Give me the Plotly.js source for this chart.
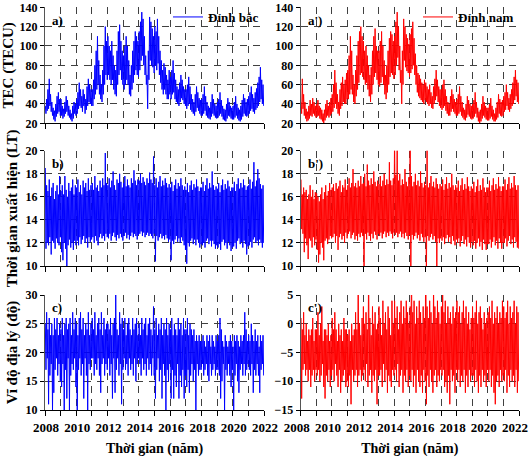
<!DOCTYPE html>
<html><head><meta charset="utf-8">
<script src="https://cdn.plot.ly/plotly-3.0.1.min.js"></script>
<style>html,body{margin:0;padding:0;background:#fff}#chart{width:530px;height:457px}</style>
</head><body><div id="chart"></div>
<script>
// Time axis: 24 samples per year from 2008 to 2022
const startYear = 2008;
const endYear = 2022;
const samplesPerYear = 24;
const yearTicks = [2008,2009,2010,2011,2012,2013,2014,2015,2016,2017,2018,2019,2020,2021,2022];
const yearLabels = ['2008','','2010','','2012','','2014','','2016','','2018','','2020','','2022'];

// a) TEC north crest (TECU)
const tecNorth = [
38,30,45,33,55,35,66,38,50,32,42,28,36,24,33,22,40,27,48,30,52,32,45,28,
45,28,38,25,35,27,42,30,48,32,44,28,38,26,34,24,30,22,38,25,42,30,40,28,
45,30,52,35,62,38,55,36,48,32,55,38,50,30,45,34,58,38,66,42,60,40,55,38,
55,38,65,45,80,50,95,55,110,60,85,50,70,45,60,42,75,50,100,60,120,70,105,65,
110,70,100,65,95,60,105,65,90,55,80,50,75,48,95,60,115,70,122,75,105,65,95,60,
90,55,100,60,110,65,100,60,85,50,70,48,80,55,95,62,105,70,115,75,110,70,105,68,
115,75,125,85,135,90,128,80,110,70,90,60,70,35,95,65,130,85,125,80,118,78,110,72,
120,80,115,75,128,82,110,70,95,62,85,55,75,50,82,55,78,50,70,45,65,45,75,50,
68,45,75,50,85,52,72,45,65,42,58,40,55,38,62,42,70,46,65,44,58,40,55,38,
55,35,60,38,68,40,58,34,50,32,45,30,42,28,50,32,58,36,52,33,46,30,44,28,
45,28,50,30,58,33,48,28,42,26,38,25,36,24,42,27,50,30,45,28,40,26,38,25,
42,26,45,28,52,30,44,27,38,24,35,23,34,22,40,25,46,28,42,27,38,25,36,24,
38,24,42,26,48,28,40,25,36,23,34,22,38,24,44,27,50,30,46,28,42,27,45,28,
48,30,52,33,58,35,50,32,46,30,52,34,56,36,62,38,68,42,78,45,65,40,60,38
];
// a') TEC south crest (TECU)
const tecSouth = [
42,30,66,35,50,28,42,25,35,22,32,23,38,25,44,28,40,27,46,30,42,28,38,26,
40,27,44,28,38,25,36,24,34,22,30,20,34,23,40,26,44,28,38,26,42,28,46,30,
50,32,60,36,75,40,62,35,50,30,42,28,55,35,62,38,68,42,60,40,65,40,72,45,
75,45,90,50,110,55,95,50,70,42,60,40,75,48,90,55,105,62,115,70,120,72,110,68,
105,65,95,60,100,62,90,55,80,48,70,42,78,50,95,60,110,68,118,72,100,65,95,60,
95,58,105,62,115,68,100,60,85,50,70,45,80,52,95,60,108,68,115,72,112,70,105,66,
110,70,125,80,135,88,120,75,100,62,75,40,95,60,128,85,120,78,112,74,108,72,102,68,
112,72,118,76,125,80,108,70,92,60,80,52,72,48,70,46,66,44,62,42,60,40,65,44,
62,42,58,40,55,38,60,40,52,36,48,35,58,40,66,44,75,48,65,42,58,38,55,36,
55,34,60,36,65,38,55,33,48,30,42,28,40,28,48,32,55,35,50,32,45,30,42,28,
45,28,50,30,58,32,48,28,42,26,36,24,34,23,40,26,48,29,44,27,40,25,38,24,
40,25,44,27,52,30,42,26,36,22,32,20,34,22,40,25,48,28,42,26,38,24,36,23,
36,23,40,25,46,27,38,24,34,22,30,22,36,24,42,26,50,30,45,28,42,27,44,28,
48,32,52,34,60,38,52,34,46,32,50,35,55,38,62,40,68,44,75,48,65,42,62,40
];
// b) Occurrence time north crest (LT)
const timeNorth = [
18.5,11.5,17,12,16.5,11.8,17.5,12.5,16,11,16.8,12.2,17.2,12,15.8,11.5,16.5,12.4,17,12,16.2,11.8,17.8,12.5,
16.5,11.2,17,10.5,16.2,12,17.8,11.5,16.6,10,16,11.8,17.2,12.3,16.5,11.6,16.8,12,17.5,11.4,16.2,12.2,17,11.8,
16.8,12.2,17.5,11.8,16.4,12.5,17,11.9,16.2,12.3,17.4,12.6,16.8,12,17.2,12.4,16.5,11.6,17.6,12.5,16.6,12.1,17,12.3,
17.2,12.5,16.6,12,17.8,12.6,16.8,12.2,17,11.8,16.5,12.5,17.4,12.8,16.8,12.4,17.6,12.6,17,12.2,19.8,12.8,17.2,12.5,
17,12.4,17.6,12.8,16.8,12.2,17.4,12.6,18.2,12.9,17,12.5,16.6,12.2,17.5,12.7,17.2,12.4,18,12.8,17.3,12.5,16.8,12.2,
17.2,12.6,17.8,12.9,16.9,12.4,17.5,12.7,17,12.3,16.8,12.6,17.6,12.9,17.2,12.5,18.3,12.8,17.4,12.6,17,12.3,17.5,12.7,
17.4,12.8,18,13,17.2,12.6,17.7,12.9,17.3,12.5,17,12.7,17.6,12.9,17.2,12.6,18.1,12.8,17.5,12.6,17.2,12.4,19.5,12.8,
17,10.4,17.6,12.6,16.8,12.2,17.3,12.5,17.8,12.8,16.9,12.4,17.4,12.6,17,12.3,17.6,12.7,17.2,12.4,16.8,12.1,17.1,12.3,
16.8,10.5,17.3,12.2,16.5,11.9,17,12.3,17.5,12.6,16.7,12.1,17.2,12.4,16.9,12,17.6,12.5,17,12.2,16.6,11.8,16.9,11.4,
16.6,10.2,17.2,12,16.4,11.7,17,12.2,17.4,12.4,16.6,11.9,17.1,12.3,16.8,11.8,17.5,12.3,16.9,12,16.5,11.6,16.8,11.9,
16.8,11.8,17.3,12,16.5,11.6,17,12.2,17.6,12.4,16.7,11.9,17.2,12.2,16.8,11.7,18.2,12.2,17,11.9,16.6,11.5,16.9,11.8,
16.7,11.6,17.2,11.9,16.4,11.4,17,12.1,17.5,12.3,16.6,11.8,17.1,12,16.7,11.5,17.4,12.1,16.9,11.8,16.5,11.3,16.8,11.6,
16.8,11.7,17.3,12,16.5,11.5,17.1,12.2,17.6,12.4,16.7,11.9,17.2,12.1,16.8,11.6,17.5,12.2,17,11.9,16.6,11,16.9,11.7,
17,11.8,17.5,12.1,16.7,11.6,17.3,12.3,19,12.5,16.9,12,17.4,12.2,18.4,11.8,17.6,12.3,17.1,12,16.7,11.6,17,12
];
// b') Occurrence time south crest (LT)
const timeSouth = [
17.5,13.2,16.2,12.8,16.8,11.2,16.4,12.4,16.6,11.8,15.8,10.6,16.2,12.4,17,12.2,16,11.6,16.6,12.5,15.8,11.8,16.4,12.3,
16.3,11.4,16,10.3,15.6,11,16.2,12,16.8,11.6,15.8,10.5,16.4,12.2,17,12.4,16.1,11.9,16.5,12.3,17.2,12.6,16.6,12.4,
16.8,12.5,17.1,12.8,16.5,12,17.2,12.6,16.7,11.4,16.9,12.5,17.4,12.8,16.4,12.3,17,12.6,16.8,12,17.5,12.9,16.6,12.4,
17,12.8,17.6,13,16.8,12.4,17.2,12.7,18.4,12.9,16.9,12.3,17.2,12.6,16.8,12.2,17.4,12.8,16.9,12.5,17.8,12.9,17.1,12.6,
17.2,9.2,18,12.8,16.9,12.3,18.8,12.9,17.4,12.6,17,12.2,17.6,12.8,17.1,12.4,18.2,13,17.3,12.7,16.9,12.3,17.4,12.8,
17.1,12.6,17.8,12.9,16.9,12.4,17.4,12.8,18,13,17,12.5,17.5,12.9,17.1,12.6,19,13,17.4,12.8,17,12.4,17.6,12.9,
21.4,12.7,17.9,12.9,20.2,12.5,17.4,12.8,18,13,17,12.5,17.5,12.8,17.1,12.4,18.4,12.9,17.3,12.6,16.9,12.3,17.7,12.7,
21.3,8.8,17.8,12.7,16.9,12.3,17.3,12.6,18,12.9,17,12.4,17.4,12.7,16.9,12.2,18.2,12.8,17.2,12.5,16.8,12.1,17.3,12.5,
17,8.5,20.3,12.6,16.8,12.2,17.2,12.5,17.8,12.8,16.9,12.3,17.3,12.6,16.8,12.1,17.6,9.6,17.1,12.4,16.7,12,17.1,12.4,
16.9,12.2,17.5,12.5,16.6,11.9,17.1,12.4,17.7,12.7,16.7,12.1,17.2,12.5,16.8,11.9,18,12.6,17,12.2,16.6,11.8,17,12.3,
16.8,12,17.4,12.4,16.5,11.7,17,12.2,17.6,12.6,16.6,11.9,17.1,12.3,16.7,11.7,17.7,12.5,16.9,12,16.5,11.6,16.9,12.1,
16.7,11.8,17.3,12.2,16.4,11.5,16.9,12,17.5,12.4,16.5,11.7,17,12.1,16.6,11.4,17.6,12.3,16.8,11.9,16.4,11.4,16.8,11.9,
16.8,11.9,17.4,12.3,16.5,11.6,17,12.1,17.6,12.5,16.6,11.8,17.1,12.2,16.7,11.5,17.7,12.4,16.9,12,16.5,11.5,16.9,12,
16.9,12,17.5,12.4,16.6,11.7,17.1,12.2,17.7,12.6,16.7,11.9,17.2,12.3,16.8,11.6,17.8,12.5,17,12.1,16.6,11.6,17,11.5
];
// c) Geographic latitude north crest (deg)
const latNorth = [
25,17,27,19,24,11,26,16,23,18,25,10,23,13,26,17,24,19,26,16,23,18,25,15,
24,14,26,18,23,10,25,17,26,12,24,19,25,10,26,16,23,18,27,17,24,19,26,14,
25,10,23,17,26,19,27,16,24,18,26,12,23,19,25,16,24,10,27,18,23,17,25,19,
26,19,24,16,27,18,23,17,25,19,26,16,24,13,27,18,23,19,26,16,24,18,25,17,
25,19,24,16,26,18,23,12,25,19,26,13,30,17,24,19,23,16,27,18,25,11,26,17,
24,19,26,17,23,18,25,16,26,19,24,17,23,18,26,16,24,19,25,15,26,18,23,19,
25,18,23,16,26,19,24,17,25,18,26,16,23,19,25,17,26,18,24,16,23,19,28,16,
24,12,26,17,23,19,25,15,24,17,26,12,23,18,25,16,24,10,26,17,23,15,25,18,
24,12,26,17,23,12,25,16,24,14,23,18,26,12,24,16,25,14,23,17,26,12,24,16,
24,14,26,17,23,13,25,16,24,18,23,15,24,17,22,10,23,18,22,16,23,17,22,17,
22,18,23,16,22,17,21,18,23,16,22,15,23,18,21,16,23,17,22,18,21,16,23,17,
22,17,23,16,26,12,24,15,22,18,21,10,23,17,22,16,21,18,22,16,23,14,22,17,
21,10,23,16,22,18,23,15,22,13,21,17,23,18,22,16,23,18,27,16,24,17,22,18,
23,17,22,16,25,18,23,13,22,17,24,16,22,18,23,16,21,13,23,17,22,18,23,16
];
// c') Geographic latitude south crest (deg)
const latSouth = [
1,-13,-1,-8,2,-7,-2,-9,0,-8,-3,-10,-1,-8,-2,-11,-1,-9,1,-8,-3,-10,-1,-8,
-1,-9,2,-8,-2,-10,0,-9,3,-7,-3,-11,-1,-13,-1,-9,-2,-10,0,-8,-3,-11,-2,-9,
1,-8,-1,-10,2,-7,-1,-9,-3,-11,0,-8,-2,-12,-1,-10,-3,-9,1,-8,-1,-11,-1,-10,
-2,-11,-1,-9,-3,-14,0,-8,-2,-10,-1,-9,2,-8,-1,-11,8,-9,0,-8,-2,-10,1,-9,
3,-8,0,-10,2,-7,-1,-11,10,-9,1,-8,-2,-12,3,-9,0,-10,2,-8,-1,-14,0,-9,
3,-9,1,-8,-2,-11,4,-7,0,-10,2,-8,-1,-12,3,-9,1,-10,-2,-11,4,-8,0,-9,
4,-8,1,-10,3,-7,-1,-11,2,-9,4,-8,0,-12,3,-9,1,-10,4,-8,2,-11,0,-9,
3,-10,12,-8,2,-11,4,-9,0,-12,3,-8,1,-10,4,-11,2,-9,0,-12,3,-8,1,-10,
15,-14,3,-9,1,-11,4,-8,2,-10,0,-12,7,-9,3,-8,1,-11,4,-9,2,-10,0,-8,
3,-9,5,-8,2,-11,4,-10,0,-12,3,-9,1,-14,2,-8,0,-10,3,-9,1,-12,2,-8,
4,-10,2,-8,3,-11,0,-9,2,-10,4,-8,1,-12,3,-9,0,-11,2,-8,-1,-10,1,-9,
3,-9,1,-11,2,-8,4,-10,0,-12,2,-9,3,-11,1,-8,-1,-10,2,-9,0,-11,1,-8,
2,-10,3,-8,1,-11,4,-9,0,-12,2,-14,1,-10,3,-9,0,-11,2,-8,1,-10,4,-9,
3,-10,1,-8,2,-12,4,-9,0,-11,3,-8,1,-10,2,-9,4,-11,0,-8,3,-12,2,-10
];

function timeAxis(n){ const t=[]; for(let i=0;i<n;i++) t.push(startYear+(i+0.5)/samplesPerYear); return t; }

const BLUE='#0000ff', RED='#ff0000';
const FONT='Liberation Serif, Times New Roman, serif';
function tr(vals,color,xa,ya,name,legend){
  return {type:'scatter',mode:'lines',x:timeAxis(vals.length),y:vals,xaxis:xa,yaxis:ya,
    line:{color:color,width:1},name:name||'',showlegend:!!name,legend:legend||'legend',hoverinfo:'skip'};
}
const data=[
  tr(tecNorth,BLUE,'x','y','Đỉnh bắc','legend'),
  tr(tecSouth,RED,'x2','y2','Đỉnh nam','legend2'),
  tr(timeNorth,BLUE,'x3','y3'),
  tr(timeSouth,RED,'x4','y4'),
  tr(latNorth,BLUE,'x5','y5'),
  tr(latSouth,RED,'x6','y6')
];

const W=530,H=457;
const colL=[45/W,264/W], colR=[300.7/W,519/W];
const row1=[1-123.3/H,1-7.3/H], row2=[1-266/H,1-150.7/H], row3=[1-410/H,1-295/H];
const xTickFont={family:FONT,size:13,color:'#000',weight:'bold'};
const yTickFont={family:FONT,size:12,color:'#000',weight:'bold'};
const titleFont={family:FONT,size:15,color:'#000',weight:'bold'};
const GRID='#404040', DASH='7px,6px';

function xa(domain,anchor,showLabels,shift){
  const o={domain:domain,anchor:anchor,range:[startYear,endYear],tickmode:'array',tickvals:yearTicks,ticktext:yearLabels,
    tickangle:0,ticks:'outside',ticklen:5,tickcolor:'#000',showline:true,linecolor:'#000',linewidth:1,
    showgrid:true,gridcolor:GRID,griddash:DASH,gridwidth:1,zeroline:false,ticklabeloverflow:'allow',
    ticklabelshift:shift||0,
    showticklabels:showLabels,tickfont:xTickFont,fixedrange:true,automargin:false};
  if(showLabels) o.title={text:'Thời gian (năm)',font:{family:FONT,size:14,color:'#000',weight:'bold'},standoff:10};
  return o;
}
function ya(domain,anchor,range,dtick,title){
  const o={domain:domain,anchor:anchor,range:range,tick0:range[0],dtick:dtick,
    ticks:'outside',ticklen:4,tickcolor:'#000',showline:true,linecolor:'#555',linewidth:1,
    showgrid:true,gridcolor:GRID,griddash:DASH,gridwidth:1,zeroline:false,ticklabeloverflow:'allow',
    tickfont:yTickFont,fixedrange:true,automargin:false};
  if(title) o.title={text:title,font:titleFont,standoff:4};
  return o;
}
function lab(t,xref,yref){
  return {text:t,xref:xref+' domain',yref:yref+' domain',x:0.025,y:0.89,xanchor:'left',yanchor:'middle',
    showarrow:false,font:{family:FONT,size:13,color:'#000',weight:'bold'}};
}
const layout={
  width:W,height:H,autosize:false,margin:{l:0,r:0,t:0,b:0},paper_bgcolor:'#fff',plot_bgcolor:'#fff',
  font:{family:FONT,color:'#000'},
  xaxis:xa(colL,'y',false), yaxis:ya(row1,'x',[20,140],20,'TEC (TECU)'),
  xaxis2:xa(colR,'y2',false), yaxis2:ya(row1,'x2',[20,140],20),
  xaxis3:xa(colL,'y3',false), yaxis3:ya(row2,'x3',[10,20],2,'Thời gian xuất hiện (LT)'),
  xaxis4:xa(colR,'y4',false), yaxis4:ya(row2,'x4',[10,20],2),
  xaxis5:xa(colL,'y5',true,1), yaxis5:ya(row3,'x5',[10,30],5,'Vĩ độ địa lý (độ)'),
  xaxis6:xa(colR,'y6',true,-4), yaxis6:ya(row3,'x6',[-15,5],5),
  legend:{x:264/W,xanchor:'right',y:1-17/H,yanchor:'middle',bgcolor:'rgba(0,0,0,0)',font:{family:FONT,size:13,color:'#000',weight:'bold'},itemwidth:30},
  legend2:{x:519/W,xanchor:'right',y:1-17/H,yanchor:'middle',bgcolor:'rgba(0,0,0,0)',font:{family:FONT,size:13,color:'#000',weight:'bold'},itemwidth:30},
  annotations:[lab('a)','x','y'),lab("a')",'x2','y2'),lab('b)','x3','y3'),lab("b')",'x4','y4'),lab('c)','x5','y5'),lab("c')",'x6','y6')],
  showlegend:true
};
Plotly.newPlot('chart',data,layout,{staticPlot:true,displayModeBar:false});
</script></body></html>
